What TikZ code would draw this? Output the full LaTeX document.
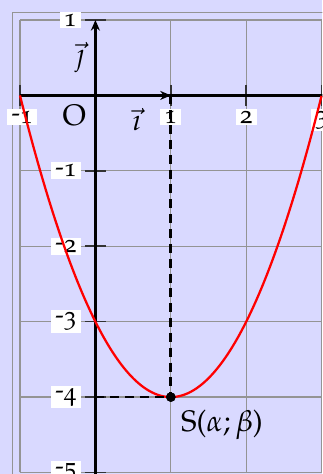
\documentclass[tikz,border=0pt]{standalone}
\usepackage[T1]{fontenc}
\usepackage[osf]{mathpazo}
\usetikzlibrary{arrows.meta}
\newcommand{\negnum}[1]{\raisebox{0.6pt}{-}#1}
\begin{document}
\begin{tikzpicture}[x=1cm,y=1cm,
  gridline/.style={draw=black!42,line width=0.5pt},
  axisline/.style={draw=black,line width=1.2pt},
  vecline/.style={draw=black,line width=1.2pt,-{Stealth[length=4pt,width=3.4pt]}},
  tickline/.style={draw=black!80,line width=0.6pt},
  ticklab/.style={fill=white,inner xsep=1.6pt,inner ysep=0.8pt,font=\fontsize{9.6}{11}\selectfont},
  curve/.style={draw=red,line width=0.85pt},
  guide/.style={draw=black,line width=1.05pt,dash pattern=on 3.4pt off 2.2pt},
  dotmark/.style={circle,fill=black,inner sep=0pt,minimum size=3.6pt},
  biglab/.style={inner sep=0pt,font=\fontsize{11.2}{13}\selectfont}]
\useasboundingbox (-1.265,-5.02) rectangle (3.01,1.265);
\clip (-1.265,-5.02) rectangle (3.01,1.265);
\fill[blue!15] (-1.265,-5.02) rectangle (3.01,1.265);
% frame and grid
\draw[gridline] (-1.1,-5.1) rectangle (3.1,1.1);
\draw[gridline] (-1,-5) grid (3,1);
% named points
\coordinate (O) at (0,0);
\coordinate (I) at (1,0);
\coordinate (J) at (0,1);
\coordinate (Xl) at (-1,0);
\coordinate (Xr) at (3.1,0);
\coordinate (Yb) at (0,-5.1);
\coordinate (Sy) at (0,-4);
% ticks
\foreach \x in {-1,1,2,3} \draw[tickline] (\x,0.14) -- (\x,-0.14);
\foreach \y in {-5,-4,-3,-2,-1,1} \draw[tickline] (-0.14,\y) -- (0.14,\y);
% axes
\draw[axisline] (Xl) -- (Xr);
\draw[axisline] (Yb) -- (O);
\draw[vecline] (O) -- (I);
\draw[vecline] (O) -- (J);
% tick labels
\node[ticklab,anchor=north] (lxm1) at (-0.97,-0.17) {\negnum{1}};
\node[ticklab,anchor=north] (lx1) at (1,-0.17) {1};
\node[ticklab,anchor=north] (lx2) at (2,-0.17) {2};
\node[ticklab,anchor=north] (lx3) at (3,-0.17) {3};
\node[ticklab,anchor=east] (ly1) at (-0.185,1) {1};
\foreach \y in {1,2,3,4,5}
  \node[ticklab,anchor=east] (lym\y) at (-0.185,-\y) {\negnum{\y}};
% other labels
\node[biglab,anchor=base west] (lo) at (-0.44,-0.40) {O};
\node[biglab] (li) at (0.55,-0.32) {$\vec{\imath}$};
\node[biglab] (lj) at (-0.2,0.5) {$\vec{\jmath}$};
% curve
\draw[curve] plot[domain=-1:3,samples=120,smooth] (\x,{(\x-1)*(\x-1)-4});
% guides and vertex
\node[dotmark] (S) at (1,-4) {};
\draw[guide] (I) -- (S.center);
\draw[guide] (Sy) -- (S.center);
\node[dotmark] at (S.center) {};
\node[biglab,anchor=base west] (ls) at (1.13,-4.45) {S($\alpha;\beta$)};
\end{tikzpicture}
\end{document}
